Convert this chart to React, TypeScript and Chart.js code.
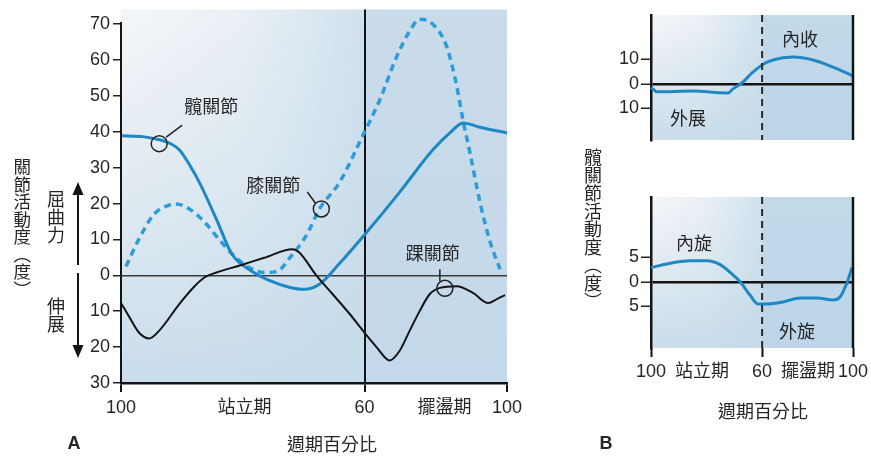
import React, { useEffect, useRef } from 'react';
import { Chart, registerables } from 'chart.js';

Chart.register(...registerables);

const NUM_FONT = '"Liberation Sans", Arial, "Noto Sans CJK TC", sans-serif';
const CJK_FONT = '"Noto Sans CJK TC", "Noto Sans CJK SC", sans-serif';
const TEXT = '#262626';
const HIP_BLUE = '#1f88c2';
const KNEE_BLUE = '#2e9cd8';
const INK = '#141414';

// ---------- Panel A: sagittal joint angles over the gait cycle ----------
const aXTickValues = [0, 32, 63.1, 83.8, 100];
const aXTickLabels = ['100', '站立期', '60', '擺盪期', '100'];
const aXTickMarked = [true, false, true, false, true];
const aYTickValues = [70, 60, 50, 40, 30, 20, 10, 0, -10, -20, -30];
const aStanceEnd = 63.1;

const hipX = [0, 6, 9.9, 13, 15.1, 17.7, 20.3, 24.7, 28.8, 34, 38.4, 43.6, 47.5, 51.4, 56.6, 63.1, 72.2, 80.8, 85.2, 88.6, 93, 100];
const hipY = [38.9, 38.6, 37.8, 36.6, 35, 30.9, 25.9, 15.7, 5.8, 1.1, -1.4, -3.3, -3.9, -2.5, 3.3, 11.3, 23.2, 35, 39.7, 42.5, 41.3, 39.7];

const kneeX = [1.3, 4.7, 8.6, 12.5, 14.3, 17.7, 21.6, 25.5, 29.4, 33.2, 37.1, 40.5, 43.6, 48.1, 51.4, 56.6, 62.6, 67, 71.4, 74.8, 77.4, 80.8, 84.4, 87, 88.6, 90.4, 93, 95.6, 98.2];
const kneeY = [2.5, 10.2, 17.1, 19.6, 19.9, 18.5, 14.9, 9.9, 5.3, 2.2, 0.8, 1.1, 4.7, 11.3, 18.5, 25.9, 38.9, 48.8, 60.9, 68.1, 71.4, 70, 63.7, 52.6, 43.3, 34.2, 20.4, 9.4, 1.7];

const ankleX = [0, 2.1, 4.7, 7.3, 9.9, 15.1, 19, 21.6, 24.7, 30.6, 37.1, 44.4, 46.2, 50.6, 54.8, 59.2, 63.1, 66.2, 69.6, 72.2, 74.8, 77.4, 80, 82.6, 87, 91.2, 95.1, 97.4, 99.5];
const ankleY = [-7.7, -11.5, -16, -17.6, -15.4, -8, -3.1, -0.6, 0.8, 2.7, 4.9, 7.3, 6.4, 0, -5.2, -10.7, -16, -20, -23.7, -21, -15.4, -9.9, -5.2, -3.5, -3, -4.9, -7.7, -6.6, -5.5];

const markerX = [9.9, 51.9, 83.9];
const markerY = [36.7, 18.5, -3.6];
const markerLabels = ['髖關節', '膝關節', '踝關節'];

// ---------- Panel B: hip frontal / transverse angles ----------
const bXTickValues = [0, 25.2, 55, 77.7, 100];
const bXTickLabels = ['100', '站立期', '60', '擺盪期', '100'];
const bXTickMarked = [true, false, true, false, true];
const bStanceEnd = 55;

const bTopTicks = [10, 0, -10];
const abdX = [0, 3, 20.8, 34.2, 38.1, 40.6, 45, 50, 55, 60.4, 70.3, 80.2, 90.1, 100];
const abdY = [-1.4, -3.2, -2.9, -3.6, -3.7, -2, 0.4, 4.5, 7.8, 9.8, 11, 9.8, 6.9, 3.3];

const bBotTicks = [5, 0, -5];
const rotX = [0, 10.9, 19.3, 27.7, 34.2, 40.6, 44.1, 49, 53, 57.4, 65.3, 73.8, 82.2, 90.1, 93.6, 97, 99.5];
const rotY = [2.9, 3.9, 4.3, 4.3, 3.5, 1.4, 0, -2.7, -4.5, -4.5, -4.1, -3.3, -3.3, -3.7, -3.1, -0.2, 2.9];

// ---------- helpers ----------
const pts = (xs: number[], ys: number[]) => xs.map((x, i) => ({ x, y: ys[i] }));

const fixSize = (w?: number, h?: number) => (scale: any) => {
  if (w !== undefined) scale.width = w;
  if (h !== undefined) scale.height = h;
  scale.paddingLeft = 0;
  scale.paddingRight = 0;
  scale.paddingTop = 0;
  scale.paddingBottom = 0;
};

const setTicks = (values: number[]) => (scale: any) => {
  scale.ticks = values.map((v) => ({ value: v }));
};

function shadePlugin(split: number, swingTop: string, swingBottom: string) {
  return {
    id: 'shade',
    beforeDraw(chart: any) {
      const { ctx, chartArea: a, scales } = chart;
      const sx = scales.x.getPixelForValue(split);
      const h = a.bottom - a.top;
      ctx.save();
      const v = ctx.createLinearGradient(0, a.top, 0, a.bottom);
      v.addColorStop(0, '#f3f6f8');
      v.addColorStop(0.5, '#e0eaf1');
      v.addColorStop(1, '#c9ddec');
      ctx.fillStyle = v;
      ctx.fillRect(a.left, a.top, sx - a.left, h);
      const hz = ctx.createLinearGradient(a.left, 0, sx, 0);
      hz.addColorStop(0, 'rgba(196,218,234,0)');
      hz.addColorStop(0.5, 'rgba(196,218,234,0.2)');
      hz.addColorStop(1, 'rgba(196,218,234,0.75)');
      ctx.fillStyle = hz;
      ctx.fillRect(a.left, a.top, sx - a.left, h);
      const s = ctx.createLinearGradient(0, a.top, 0, a.bottom);
      s.addColorStop(0, swingTop);
      s.addColorStop(1, swingBottom);
      ctx.fillStyle = s;
      ctx.fillRect(sx, a.top, a.right - sx, h);
      ctx.restore();
    },
  };
}

// marker annotation geometry (pixels relative to each marker)
const leaderOffsets = [
  [7, -6.5, 23, -18.5],
  [-14, -17, -6, -6],
  [-5, -19, -5, -7],
];
const labelOffsets = [
  [52, -38],
  [-48, -24],
  [-12, -35],
];

const annotPlugin = {
  id: 'annot',
  afterDatasetsDraw(chart: any) {
    const { ctx, chartArea: a, scales } = chart;
    ctx.save();
    ctx.strokeStyle = INK;
    ctx.lineWidth = 2;
    ctx.beginPath();
    ctx.moveTo(a.left, scales.y.getPixelForValue(70.6));
    ctx.lineTo(a.left, a.bottom);
    ctx.stroke();
    const meta = chart.getDatasetMeta(0);
    ctx.lineWidth = 1.5;
    ctx.strokeStyle = '#222';
    ctx.fillStyle = TEXT;
    ctx.font = '18px ' + CJK_FONT;
    ctx.textAlign = 'center';
    ctx.textBaseline = 'middle';
    meta.data.forEach((p: any, i: number) => {
      const [x1, y1, x2, y2] = leaderOffsets[i];
      ctx.beginPath();
      ctx.moveTo(p.x + x1, p.y + y1);
      ctx.lineTo(p.x + x2, p.y + y2);
      ctx.stroke();
      ctx.fillText(markerLabels[i], p.x + labelOffsets[i][0], p.y + labelOffsets[i][1]);
    });
    ctx.restore();
  },
};

function framePlugin(split: number) {
  return {
    id: 'frame',
    afterDatasetsDraw(chart: any) {
      const { ctx, chartArea: a, scales } = chart;
      const sx = scales.x.getPixelForValue(split);
      ctx.save();
      ctx.strokeStyle = INK;
      ctx.lineWidth = 2.5;
      ctx.beginPath();
      ctx.moveTo(a.right, a.top);
      ctx.lineTo(a.right, a.bottom);
      ctx.stroke();
      ctx.lineWidth = 2;
      ctx.strokeStyle = '#2a2a2a';
      ctx.setLineDash([7, 5]);
      ctx.beginPath();
      ctx.moveTo(sx, a.top);
      ctx.lineTo(sx, a.bottom);
      ctx.stroke();
      ctx.restore();
    },
  };
}

const lineDs = (label: string, data: any[], color: string, width: number, extra: any = {}) => ({
  label,
  data,
  borderColor: color,
  borderWidth: width,
  pointRadius: 0,
  fill: false,
  cubicInterpolationMode: 'monotone',
  clip: false,
  ...extra,
});

const tickFont = { family: NUM_FONT, size: 18 };

function configA() {
  return {
    type: 'line',
    data: {
      datasets: [
        {
          label: 'markers',
          data: pts(markerX, markerY),
          showLine: false,
          pointRadius: 8,
          pointHoverRadius: 8,
          pointBorderWidth: 1.5,
          pointBorderColor: '#222',
          pointBackgroundColor: 'rgba(0,0,0,0)',
        },
        lineDs('踝關節', pts(ankleX, ankleY), INK, 2),
        lineDs('髖關節', pts(hipX, hipY), HIP_BLUE, 3),
        lineDs('膝關節', pts(kneeX, kneeY), KNEE_BLUE, 3.5, { borderDash: [7, 5] }),
      ],
    },
    options: {
      responsive: false,
      animation: false,
      devicePixelRatio: 1,
      events: [],
      layout: { padding: { left: 0, right: 23, top: 5, bottom: 0 } },
      plugins: { legend: { display: false }, tooltip: { enabled: false } },
      scales: {
        x: {
          type: 'linear',
          min: 0,
          max: 100,
          afterBuildTicks: setTicks(aXTickValues),
          afterFit: fixSize(undefined, 76),
          ticks: {
            autoSkip: false,
            maxRotation: 0,
            padding: 5,
            color: TEXT,
            font: tickFont,
            callback: (_v: any, i: number) => aXTickLabels[i],
          },
          grid: {
            drawOnChartArea: true,
            color: (c: any) => (c.tick && c.tick.value === aStanceEnd ? INK : 'rgba(0,0,0,0)'),
            lineWidth: 2,
            tickColor: (c: any) => (aXTickMarked[c.index] ? INK : 'rgba(0,0,0,0)'),
            tickLength: 9,
            tickWidth: 2,
          },
          border: { display: true, color: INK, width: 2.5 },
        },
        y: {
          type: 'linear',
          min: -30,
          max: 74.1,
          afterBuildTicks: setTicks(aYTickValues),
          afterFit: fixSize(121, undefined),
          ticks: {
            padding: 3,
            color: TEXT,
            font: tickFont,
            callback: (v: any) => String(Math.abs(Number(v))),
          },
          grid: {
            drawOnChartArea: true,
            color: (c: any) => (c.tick && c.tick.value === 0 ? '#3a3a3a' : 'rgba(0,0,0,0)'),
            lineWidth: 1.5,
            tickColor: '#222',
            tickLength: 8,
            tickWidth: 1.5,
          },
          border: { display: false },
        },
      },
    },
    plugins: [shadePlugin(aStanceEnd, '#cadcea', '#c3d8ea'), annotPlugin],
  };
}

function configB(kind: 'top' | 'bottom') {
  const isTop = kind === 'top';
  const data = isTop ? pts(abdX, abdY) : pts(rotX, rotY);
  const yTicks = isTop ? bTopTicks : bBotTicks;
  return {
    type: 'line',
    data: { datasets: [lineDs(isTop ? '外展/內收' : '內旋/外旋', data, HIP_BLUE, 3)] },
    options: {
      responsive: false,
      animation: false,
      devicePixelRatio: 1,
      events: [],
      layout: { padding: isTop ? { left: 0, right: 18, top: 15, bottom: 10 } : { left: 0, right: 18, top: 17, bottom: 0 } },
      plugins: { legend: { display: false }, tooltip: { enabled: false } },
      scales: {
        x: {
          type: 'linear',
          min: 0,
          max: 100,
          display: !isTop,
          afterBuildTicks: setTicks(bXTickValues),
          afterFit: fixSize(undefined, isTop ? 0 : 47),
          ticks: {
            autoSkip: false,
            maxRotation: 0,
            padding: 4,
            color: TEXT,
            font: tickFont,
            callback: (_v: any, i: number) => bXTickLabels[i],
          },
          grid: {
            drawOnChartArea: false,
            tickColor: (c: any) => (bXTickMarked[c.index] ? INK : 'rgba(0,0,0,0)'),
            tickLength: 9,
            tickWidth: 2,
          },
          border: { display: false },
        },
        y: {
          type: 'linear',
          min: isTop ? -22.9 : -13.5,
          max: isTop ? 28.2 : 17.3,
          afterBuildTicks: setTicks(yTicks),
          afterFit: fixSize(91, undefined),
          ticks: {
            padding: 2,
            color: TEXT,
            font: tickFont,
            callback: (v: any) => String(Math.abs(Number(v))),
          },
          grid: {
            drawOnChartArea: true,
            color: (c: any) => (c.tick && c.tick.value === 0 ? INK : 'rgba(0,0,0,0)'),
            lineWidth: 2.5,
            tickColor: '#222',
            tickLength: 10,
            tickWidth: 1.5,
          },
          border: { display: true, color: INK, width: 2.5 },
        },
      },
    },
    plugins: [shadePlugin(bStanceEnd, '#c2d9ea', '#bcd5e8'), framePlugin(bStanceEnd)],
  };
}

function ChartCanvas(props: { left: number; top: number; width: number; height: number; make: () => any }) {
  const ref = useRef<HTMLCanvasElement>(null);
  useEffect(() => {
    const chart = new Chart(ref.current as HTMLCanvasElement, props.make());
    return () => chart.destroy();
  }, []);
  return (
    <canvas
      ref={ref}
      width={props.width}
      height={props.height}
      style={{ position: 'absolute', left: props.left, top: props.top, width: props.width, height: props.height, display: 'block' }}
    />
  );
}

const Label = (p: { x: number; y: number; text: string; size?: number; bold?: boolean; font?: string }) => (
  <div
    style={{
      position: 'absolute',
      left: p.x,
      top: p.y,
      transform: 'translate(-50%, -50%)',
      fontFamily: p.font || CJK_FONT,
      fontSize: p.size || 18,
      fontWeight: p.bold ? 700 : 400,
      color: TEXT,
      whiteSpace: 'nowrap',
      lineHeight: 1,
    }}
  >
    {p.text}
  </div>
);

const VLabel = (p: { x: number; y: number; text: string; size?: number }) => (
  <div
    style={{
      position: 'absolute',
      left: p.x,
      top: p.y,
      transform: 'translateX(-50%)',
      writingMode: 'vertical-rl',
      fontFamily: CJK_FONT,
      fontSize: p.size || 18,
      color: TEXT,
      lineHeight: 1,
      whiteSpace: 'nowrap',
    }}
  >
    {p.text}
  </div>
);

export default function App() {
  return (
    <div style={{ position: 'absolute', left: 0, top: 0, width: 871, height: 459, background: '#ffffff', overflow: 'hidden' }}>
      <ChartCanvas left={0} top={0} width={530} height={459} make={configA} />
      <ChartCanvas left={560} top={0} width={311} height={150} make={() => configB('top')} />
      <ChartCanvas left={560} top={180} width={311} height={215} make={() => configB('bottom')} />

      <svg width={871} height={459} style={{ position: 'absolute', left: 0, top: 0, pointerEvents: 'none' }}>
        <line x1={78} y1={265} x2={78} y2={192} stroke={INK} strokeWidth={2} />
        <polygon points="78,182 72.5,195 83.5,195" fill={INK} />
        <line x1={78} y1={273} x2={78} y2={347} stroke={INK} strokeWidth={2} />
        <polygon points="78,358 72.5,345 83.5,345" fill={INK} />
      </svg>

      <VLabel x={22} y={158} text="關節活動度（度）" size={17.5} />
      <VLabel x={56} y={190} text="屈曲力" />
      <VLabel x={56} y={297} text="伸展" />
      <Label x={74} y={443} text="A" bold font={NUM_FONT} />
      <Label x={332} y={443} text="週期百分比" />

      <VLabel x={593} y={148} text="髖關節活動度（度）" />
      <Label x={763} y={410} text="週期百分比" />
      <Label x={606} y={443} text="B" bold font={NUM_FONT} />
      <Label x={800} y={38} text="內收" />
      <Label x={688} y={117} text="外展" />
      <Label x={694} y={242} text="內旋" />
      <Label x={797} y={330} text="外旋" />
    </div>
  );
}
